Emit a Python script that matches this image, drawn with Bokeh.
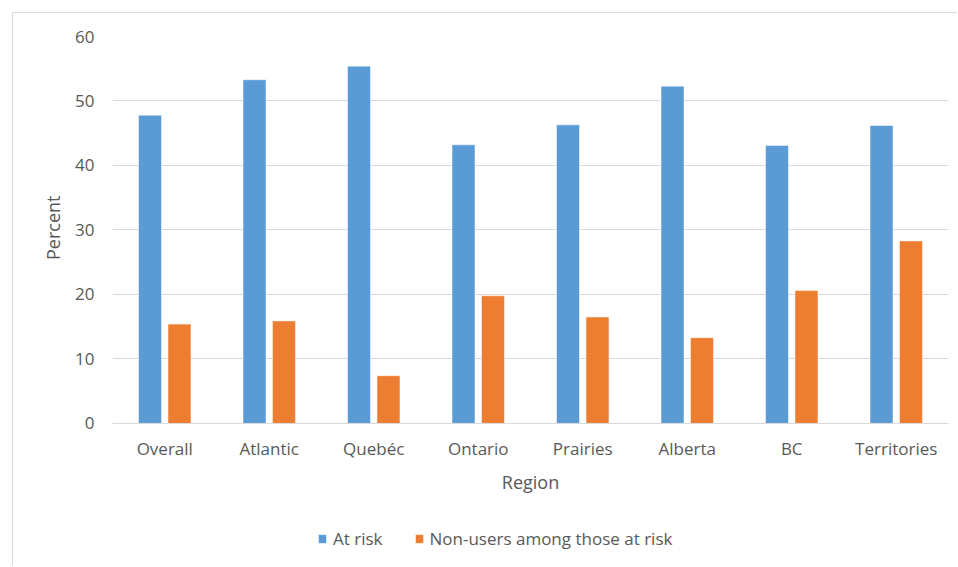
from bokeh.plotting import figure
from bokeh.models import ColumnDataSource, Legend, LegendItem, FactorRange, Title
from bokeh.transform import dodge
from bokeh.embed import file_html
from bokeh.resources import INLINE

regions = ["Overall", "Atlantic", "Quebéc", "Ontario", "Prairies", "Alberta", "BC", "Territories"]
at_risk = [47.8, 53.3, 55.4, 43.2, 46.3, 52.3, 43.1, 46.2]
non_users = [15.4, 15.9, 7.4, 19.8, 16.5, 13.3, 20.6, 28.3]
y_ticks = [0, 10, 20, 30, 40, 50, 60]
series_names = ["At risk", "Non-users among those at risk"]

BLUE = "#5B9BD5"
ORANGE = "#ED7D31"
TEXT = "#595959"
GRID = "#D9D9D9"
FONT = "Open Sans"

src = ColumnDataSource(dict(region=regions, at_risk=at_risk, non_users=non_users))

p = figure(x_range=FactorRange(*regions), y_range=(-21.1, 60), width=945, height=554,
           output_backend="svg", toolbar_location=None,
           min_border_left=99, min_border_right=10, min_border_top=23, min_border_bottom=8)
p.styles = {"margin-left": "12px", "margin-top": "12px",
            "border-left": "1px solid #D9D9D9", "border-top": "1px solid #D9D9D9"}
p.outline_line_color = None

r1 = p.vbar(x=dodge("region", -0.141, range=p.x_range), top="at_risk", width=0.22,
            source=src, fill_color=BLUE, line_color="white", line_width=0.5)
r2 = p.vbar(x=dodge("region", 0.141, range=p.x_range), top="non_users", width=0.22,
            source=src, fill_color=ORANGE, line_color="white", line_width=0.5)

p.xgrid.grid_line_color = None
p.ygrid.grid_line_color = GRID
p.ygrid.grid_line_width = 1
p.yaxis.ticker = y_ticks
p.xaxis.fixed_location = 0

p.yaxis.axis_line_color = None
p.xaxis.axis_line_color = GRID
p.xaxis.axis_line_width = 1
for ax in (p.xaxis, p.yaxis):
    ax.major_tick_line_color = None
    ax.minor_tick_line_color = None
    ax.major_label_text_font = FONT
    ax.major_label_text_font_size = "17px"
    ax.major_label_text_color = TEXT
    ax.axis_label_text_font = FONT
    ax.axis_label_text_font_size = "18px"
    ax.axis_label_text_font_style = "normal"
    ax.axis_label_text_color = TEXT

p.xaxis.major_label_standoff = 8
p.yaxis.major_label_standoff = 12
p.xaxis.axis_label = "Region"
p.xaxis.axis_label_standoff = 6

# y-axis title, placed so it is centred on the 0-60 span like the reference
ytitle = Title(text="Percent", align="right", offset=159, standoff=15,
               text_font=FONT, text_font_size="18px", text_font_style="normal",
               text_color=TEXT)
p.add_layout(ytitle, "left")

legend = Legend(items=[LegendItem(label=series_names[0], renderers=[r1]),
                       LegendItem(label=series_names[1], renderers=[r2])],
                orientation="horizontal", location=(205, 9),
                glyph_width=10, glyph_height=11, label_standoff=6, spacing=31,
                padding=0, margin=0, border_line_color=None, background_fill_alpha=0,
                label_text_font=FONT, label_text_font_size="17px", label_text_color=TEXT,
                label_height=20)
p.add_layout(legend, "center")

open("out.html", "w").write(file_html(p, INLINE))
